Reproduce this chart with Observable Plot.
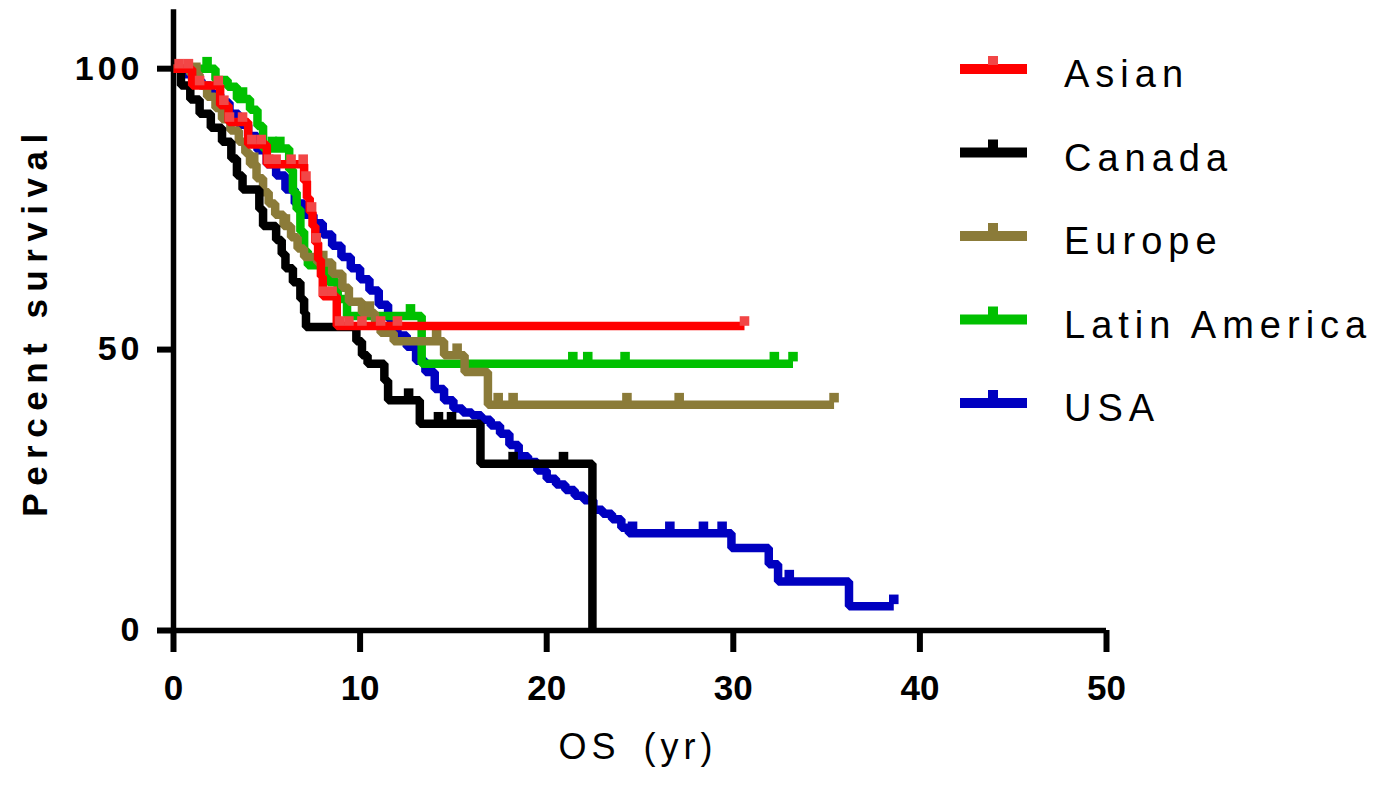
<!DOCTYPE html>
<html><head><meta charset="utf-8">
<script src="https://cdn.jsdelivr.net/npm/d3@7"></script>
<script src="https://cdn.jsdelivr.net/npm/@observablehq/plot@0.6"></script>
<style>
body{margin:0;background:#fff;}
#chart{width:1375px;height:786px;overflow:hidden;}
</style>
</head><body><div id="chart"></div>
<script>
// ---- data ----
const seriesNames = ["Asian", "Canada", "Europe", "Latin America", "USA"];
const seriesColors = ["#ff0000", "#000000", "#8b7b39", "#00c000", "#0000c0"];
const censorColors = ["#f24646", "#000000", "#8b7b39", "#00c000", "#0000c0"];

const asianT = [0, 1.0, 2.5, 2.95, 4.0, 5.0, 7.0, 7.15, 7.3, 7.45, 7.6, 7.75, 7.9, 8.0, 8.75, 30.6];
const asianS = [100, 97, 93.5, 90.5, 86.5, 83, 80, 77, 74.5, 72, 69, 66, 63, 59.5, 54.2, 54.2];
const asianC = [0.3, 0.8, 1.4, 2.4, 2.7, 3.0, 3.7, 4.2, 4.7, 5.1, 5.5, 6.3, 6.95, 7.1, 7.4, 7.65, 8.05, 8.5, 8.9, 9.4, 10.1, 11.1, 12.0, 30.6];

const canadaT = [0, 0.4, 0.9, 1.4, 2.0, 2.6, 3.1, 3.4, 3.7, 4.6, 4.8, 5.5, 5.8, 6.0, 6.4, 6.8, 7.0, 7.1, 9.8, 10.1, 10.4, 11.3, 11.5, 13.2, 16.45, 22.45];
const canadaS = [100, 97, 94.5, 92, 89.5, 87, 84, 81, 78.5, 75, 72, 69.5, 67, 64.5, 62, 59, 56.5, 54, 51.5, 49, 47.5, 44.5, 41, 36.8, 29.7, 0];
const canadaC = [12.6, 14.2, 14.9, 18.2, 20.9];

const europeT = [0, 0.9, 1.4, 1.8, 2.25, 2.6, 3.05, 3.5, 3.85, 4.1, 4.45, 4.8, 5.1, 5.45, 5.9, 6.3, 6.65, 7.0, 7.7, 8.5, 9.05, 9.4, 10.1, 10.8, 11.1, 11.8, 14.5, 15.6, 16.85, 35.4];
const europeS = [100, 99, 97, 95, 93, 91, 89, 87, 85, 83, 80.5, 78, 76, 74, 72, 70, 68, 66.5, 65.5, 63.5, 61, 58.5, 56.5, 55, 53, 51.5, 49, 46, 40.2, 40.2];
const europeC = [1.2, 2.8, 4.3, 6.0, 8.0, 10.5, 14.1, 15.2, 17.4, 18.2, 24.3, 27.1, 35.4];

const latamT = [0, 2.25, 2.9, 3.4, 4.1, 4.5, 4.8, 6.2, 6.4, 6.6, 6.8, 7.0, 7.2, 8.3, 8.8, 9.3, 13.3, 33.2];
const latamS = [100, 98, 96.8, 94.6, 92.7, 89.8, 85.8, 82, 78, 75, 71, 67.5, 65, 62, 59, 56, 47.5, 47.5];
const latamC = [1.8, 3.7, 5.3, 5.7, 7.5, 12.7, 21.4, 22.2, 24.2, 32.2, 33.2];

const usaT = [0, 0.5, 1.0, 1.5, 2.0, 2.5, 3.0, 3.5, 4.0, 4.5, 5.0, 5.5, 6.0, 6.5, 7.0, 7.5, 8.0, 8.5, 9.0, 9.5, 10.0, 10.5, 11.0, 11.5, 12.0, 12.5, 13.0, 13.5, 14.0, 14.5, 15.0, 15.5, 16.0, 16.5, 17.0, 17.5, 18.0, 18.5, 19.0, 19.5, 20.0, 20.5, 21.0, 21.5, 22.0, 22.5, 23.0, 23.5, 24.0, 24.4, 29.9, 31.9, 32.4, 36.2, 38.6];
const usaS = [100, 99, 98, 97, 95.5, 94, 92, 90, 88, 85.5, 83, 81, 78.5, 76, 74, 72.5, 70.5, 68.5, 66.5, 64.5, 62.5, 60.5, 58, 55.5, 52.5, 50.5, 48, 46, 43, 41, 39.5, 38.8, 38.3, 37.5, 36.5, 35, 33, 31, 30, 28.5, 27, 26, 25, 24, 23.2, 21.5, 20.8, 19.8, 18.3, 17.3, 14.7, 11.8, 8.7, 4.3, 4.3];
const usaC = [24.6, 26.6, 28.4, 29.4, 33.0, 38.6];

const xTicks = [0, 10, 20, 30, 40, 50];
const yTicks = [0, 50, 100];
const xTitle = "OS (yr)";
const yTitle = "Percent survival";

// ---- build tables ----
const seriesData = [
  {name: "Asian", T: asianT, S: asianS, C: asianC},
  {name: "Canada", T: canadaT, S: canadaS, C: canadaC},
  {name: "Europe", T: europeT, S: europeS, C: europeC},
  {name: "Latin America", T: latamT, S: latamS, C: latamC},
  {name: "USA", T: usaT, S: usaS, C: usaC}
];
function survAt(T, S, t) { return S[Math.max(0, d3.bisectRight(T, t) - 1)]; }

const drawOrder = ["USA", "Latin America", "Europe", "Canada", "Asian"];
const marks = [];
for (const name of drawOrder) {
  const sd = seriesData.find(d => d.name === name);
  const k = seriesNames.indexOf(name);
  const pts = sd.T.map((t, i) => ({t, s: sd.S[i]}));
  const cens = sd.C.map(t => ({t, s: survAt(sd.T, sd.S, t)}));
  marks.push(Plot.line(pts, {x: "t", y: "s", curve: "step-after", stroke: seriesColors[k], strokeWidth: 8.5, strokeLinejoin: "miter", strokeLinecap: "butt"}));
  marks.push(Plot.dot(cens, {x: "t", y: "s", symbol: "square", r: 5.4, fill: censorColors[k], stroke: "none", dy: name === "Asian" ? -5 : -7}));
}

const chart = Plot.plot({
  width: 1375,
  height: 786,
  marginLeft: 173,
  marginRight: 269,
  marginTop: 12,
  marginBottom: 156,
  style: {fontFamily: "'Liberation Sans', Arial, sans-serif", background: "#fff", color: "#000"},
  x: {domain: [0, 50]},
  y: {domain: [0, 110]},
  marks: [
    Plot.axisX({ticks: xTicks, tickSize: 22, strokeWidth: 6, tickPadding: 23, fontSize: 35, fontWeight: "bold", label: null, stroke: "#000", fill: "#000"}),
    Plot.axisY({ticks: yTicks, tickSize: 16, strokeWidth: 6, tickPadding: 14, fontSize: 34, fontWeight: "bold", label: null, stroke: "#000", fill: "#000"}),
    Plot.ruleY([0], {x1: 0, x2: 50, stroke: "#000", strokeWidth: 5.5}),
    Plot.ruleX([0], {y1: 0, y2: 110.5, stroke: "#000", strokeWidth: 5.5}),
    ...marks,
    Plot.text([yTitle], {frameAnchor: "left", textAnchor: "middle", dx: -138, rotate: -90, fontSize: 35, fontWeight: "bold", fill: "#000"}),
    Plot.text([xTitle], {frameAnchor: "bottom", textAnchor: "middle", dy: 128, dx: -2, fontSize: 36, fill: "#000"})
  ]
});

document.getElementById("chart").appendChild(chart);
const svg = d3.select(chart);
svg.selectAll('g[aria-label="y-axis tick label"] text').style("letter-spacing", "4px");
svg.selectAll('text').filter(function(){ return this.textContent === xTitle; }).style("letter-spacing", "5px").style("word-spacing", "8px");
svg.selectAll('text').filter(function(){ return this.textContent === yTitle; }).style("letter-spacing", "7.5px");

// legend
const leg = svg.append("g").attr("aria-label", "legend").attr("text-anchor", "start");
seriesNames.forEach((name, i) => {
  const cy = 69 + i * 83.5;
  const g = leg.append("g");
  g.append("line").attr("x1", 960).attr("x2", 1027).attr("y1", cy).attr("y2", cy)
    .attr("stroke", seriesColors[i]).attr("stroke-width", 10);
  g.append("rect").attr("x", 988).attr("y", cy - 13).attr("width", 10).attr("height", 9)
    .attr("fill", censorColors[i]);
  g.append("text").attr("x", 1064).attr("y", cy + 18).text(name)
    .attr("text-anchor", "start")
    .attr("font-size", 38).attr("fill", "#000")
    .style("letter-spacing", "6px")
    .style("font-family", "'Liberation Sans', Arial, sans-serif");
});
</script>
</body></html>
